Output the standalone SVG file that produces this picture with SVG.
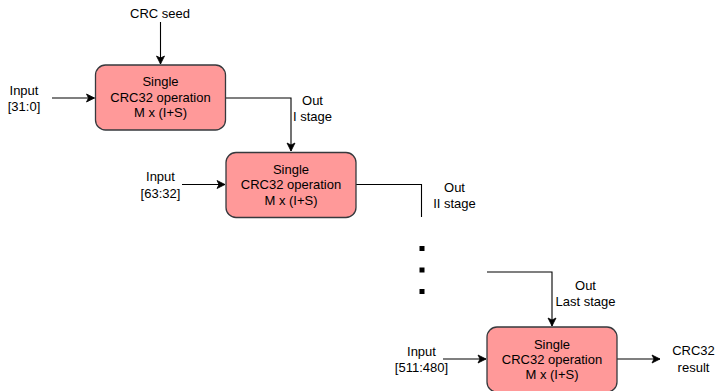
<svg xmlns="http://www.w3.org/2000/svg" width="717" height="391" viewBox="0 0 717 391">
<style>
text{font-family:"Liberation Sans",Arial,sans-serif;font-size:13px;fill:#000;text-anchor:middle}
.box{fill:#ff9999;stroke:#36393d;stroke-width:1.3}
.c{fill:none;stroke:#000;stroke-width:1.1}
.dot{fill:#000}
</style>
<defs>
<marker id="arr" markerUnits="userSpaceOnUse" markerWidth="10" markerHeight="10" viewBox="0 0 10 10" refX="9" refY="5" orient="auto">
<path d="M1,1 L9,5 L1,9 L3,5 Z" fill="#000" stroke="#000" stroke-width="0.8"/>
</marker>
</defs>
<g id="connectors">
<path class="c" d="M160.5,22 V64" marker-end="url(#arr)"/>
<path class="c" d="M52,98 H94.5" marker-end="url(#arr)"/>
<path class="c" d="M225.5,98 H291 V151" marker-end="url(#arr)"/>
<path class="c" d="M182,184.5 H225" marker-end="url(#arr)"/>
<path class="c" d="M356,184.5 H421.5 V217"/>
<path class="c" d="M487,272 H552 V326" marker-end="url(#arr)"/>
<path class="c" d="M443,359 H486" marker-end="url(#arr)"/>
<path class="c" d="M617,359 H660" marker-end="url(#arr)"/>
</g>
<g id="labels">
<text x="160" y="17.5">CRC seed</text>
<text x="24" y="94.5">Input</text>
<text x="24" y="111">[31:0]</text>
<text x="312.5" y="104.5">Out</text>
<text x="312.5" y="120.5">I stage</text>
<text x="160.5" y="181">Input</text>
<text x="160.5" y="197.5">[63:32]</text>
<text x="454.5" y="192">Out</text>
<text x="454.5" y="208">II stage</text>
<text x="585.5" y="289.5">Out</text>
<text x="585.5" y="305.5">Last stage</text>
<text x="421.5" y="355.5">Input</text>
<text x="421.5" y="372">[511:480]</text>
<text x="693.5" y="355">CRC32</text>
<text x="693.5" y="371.5">result</text>
</g>
<g id="dots">
<rect class="dot" x="419.5" y="246" width="5" height="5"/>
<rect class="dot" x="419.5" y="267.5" width="5" height="5"/>
<rect class="dot" x="419.5" y="289" width="5" height="5"/>
</g>
<g id="stage1">
<rect class="box" x="95.5" y="65" width="130" height="65" rx="10"/>
<text x="160.5" y="86">Single</text>
<text x="160.5" y="101.5">CRC32 operation</text>
<text x="160.5" y="117">M x (I+S)</text>
</g>
<g id="stage2">
<rect class="box" x="226" y="152.5" width="130" height="65" rx="10"/>
<text x="291" y="173.5">Single</text>
<text x="291" y="189">CRC32 operation</text>
<text x="291" y="204.5">M x (I+S)</text>
</g>
<g id="stage3">
<rect class="box" x="487" y="327" width="130" height="65" rx="10"/>
<text x="552" y="348.5">Single</text>
<text x="552" y="363.5">CRC32 operation</text>
<text x="552" y="379">M x (I+S)</text>
</g>
</svg>
